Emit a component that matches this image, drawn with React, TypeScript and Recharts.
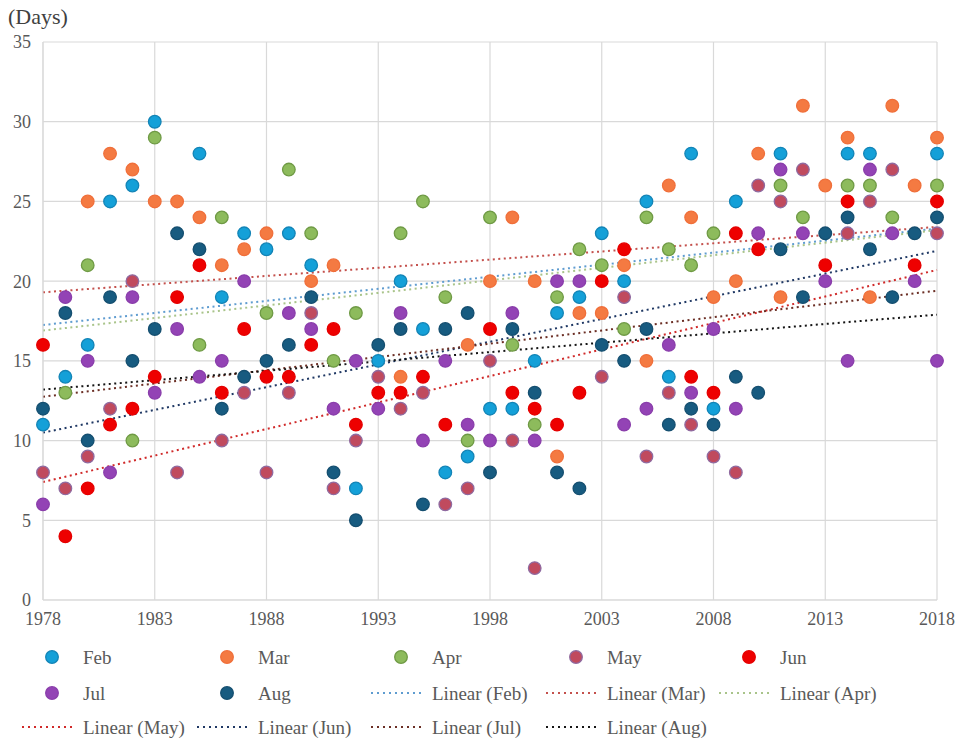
import { ScatterChart, Scatter, XAxis, YAxis, CartesianGrid, ReferenceLine } from "recharts";

const FONT = "Liberation Serif, DejaVu Serif, Times New Roman, Times, serif";

const years = [
  1978, 1979, 1980, 1981, 1982, 1983, 1984, 1985, 1986, 1987, 1988, 1989, 1990, 1991,
  1992, 1993, 1994, 1995, 1996, 1997, 1998, 1999, 2000, 2001, 2002, 2003, 2004, 2005,
  2006, 2007, 2008, 2009, 2010, 2011, 2012, 2013, 2014, 2015, 2016, 2017, 2018,
];

// days per month, one value per year (null = no dot drawn)
const feb = [11, 14, 16, 25, 26, 30, null, 28, 19, 23, 22, 23, 21, null, 7, 15, 20, 17, 8, 9, 12, 12, 15, 18, 19, 23, 20, 25, 14, 28, 12, 25, null, 28, null, null, 28, 28, null, null, 28];
const mar = [null, null, 25, 28, 27, 25, 25, 24, 21, 22, 23, null, 20, 21, null, null, 14, null, null, 16, 20, 24, 20, 9, 18, 18, 21, 15, 26, 24, 19, 20, 28, 19, 31, 26, 29, 19, 31, 26, 29];
const apr = [null, 13, 21, null, 10, 29, null, 16, 24, null, 18, 27, 23, 15, 18, null, 23, 25, 19, 10, 24, 16, 11, 19, 22, 21, 17, 24, 22, 21, 23, null, null, 26, 24, null, 26, 26, 24, null, 26];
const may = [8, 7, 9, 12, 20, null, 8, null, 10, 13, 8, 13, 18, 7, 10, 14, 12, 13, 6, 7, 15, 10, 2, null, null, 14, 19, 9, 13, 11, 9, 8, 26, 25, 27, null, 23, 25, 27, null, 23];
const jun = [16, 4, 7, 11, 12, 14, 19, 21, 13, 17, 14, 14, 16, 17, 11, 13, 13, 14, 11, null, 17, 13, 12, 11, 13, 20, 22, null, null, 14, 13, 23, 22, null, null, 21, 25, null, null, 21, 25];
const jul = [6, 19, 15, 8, 19, 13, 17, 14, 15, 20, null, 18, 17, 12, 15, 12, 18, 10, 15, 11, 10, 18, 10, 20, 20, null, 11, 12, 16, 13, 17, 12, 23, 27, 23, 20, 15, 27, 23, 20, 15];
const aug = [12, 18, 10, 19, 15, 17, 23, 22, 12, 14, 15, 16, 19, 8, 5, 16, 17, 6, 17, 18, 8, 17, 13, 8, 7, 16, 15, 17, 11, 12, 11, 14, 13, 22, 19, 23, 24, 22, 19, 23, 24];

const months = ["Feb", "Mar", "Apr", "May", "Jun", "Jul", "Aug"];
const monthValues = [feb, mar, apr, may, jun, jul, aug];
const dotFill = ["#14a0d8", "#f47a42", "#8dbb5c", "#c04a5e", "#ee0000", "#9343b5", "#175b80"];
const dotStroke = ["#1384b6", "#f06f3a", "#6f9a45", "#8f6aa0", "#e50000", "#8a3eab", "#154f70"];

// trend lines: value at 1978 and at 2018
const trendStart = [17.25, 19.3, 16.9, 7.4, 10.5, 12.75, 13.2];
const trendEnd = [23.3, 23.4, 23.2, 20.7, 21.9, 19.4, 17.9];
const trendColor = ["#5f9cd0", "#c4504c", "#a9c48a", "#d02a2a", "#1f3864", "#6b2e24", "#151515"];

const xTicks = [1978, 1983, 1988, 1993, 1998, 2003, 2008, 2013, 2018];
const yTicks = [0, 5, 10, 15, 20, 25, 30, 35];

const tickStyle = { fontSize: 18, fill: "#595959", fontFamily: FONT };

const dot = (fill: string, stroke: string) => (p: any) =>
  <circle cx={p.cx} cy={p.cy} r={6.3} fill={fill} stroke={stroke} strokeWidth={1.3} />;

function ChartLegend() {
  const colX = [83, 258, 432, 607, 780];
  const rowY = [27, 63, 97];
  const items = [
    ...months.map((m, i) => ({ label: m, kind: "dot", i })),
    ...months.map((m, i) => ({ label: `Linear (${m})`, kind: "line", i })),
  ];
  return (
    <svg width={957} height={108} style={{ position: "absolute", left: 0, top: 630 }}>
      {items.map((it, k) => {
        const x = colX[k % 5];
        const y = rowY[Math.floor(k / 5)];
        return (
          <g key={it.label}>
            {it.kind === "dot" ? (
              <circle cx={x - 31} cy={y} r={6.3} fill={dotFill[it.i]} stroke={dotStroke[it.i]} strokeWidth={1.3} />
            ) : (
              <line x1={x - 61} x2={x - 8} y1={y} y2={y} stroke={trendColor[it.i]} strokeWidth={2} strokeDasharray="2 4" />
            )}
            <text x={x} y={y} dominantBaseline="central" fontSize={19} fill="#595959" style={{ fontFamily: FONT }}>
              {it.label}
            </text>
          </g>
        );
      })}
    </svg>
  );
}

export default function App() {
  return (
    <div style={{ position: "relative", width: 957, height: 738, background: "#fff", fontFamily: FONT }}>
      <style>{`body{margin:0} .recharts-cartesian-axis-tick-value{font-family:${FONT}}`}</style>
      <div style={{ position: "absolute", left: 8, top: 4, fontSize: 22, color: "#404040" }}>(Days)</div>
      <ScatterChart width={957} height={738} margin={{ top: 42, right: 20, left: 0, bottom: 108 }}>
        <CartesianGrid stroke="#d9d9d9" strokeWidth={1.2} />
        <XAxis
          type="number"
          dataKey="x"
          domain={[1978, 2018]}
          ticks={xTicks}
          interval={0}
          tickLine={false}
          tickSize={0}
          tickMargin={12}
          axisLine={{ stroke: "#d9d9d9" }}
          tick={tickStyle}
          height={30}
        />
        <YAxis
          type="number"
          dataKey="y"
          domain={[0, 35]}
          ticks={yTicks}
          interval={0}
          tickLine={false}
          tickSize={0}
          tickMargin={12}
          axisLine={{ stroke: "#d9d9d9" }}
          tick={tickStyle}
          width={43}
        />
        {months.map((m, i) => (
          <Scatter
            key={m}
            name={m}
            data={years
              .map((yr, j) => ({ x: yr, y: monthValues[i][j] }))
              .filter((d) => d.y !== null)}
            shape={dot(dotFill[i], dotStroke[i])}
            isAnimationActive={false}
          />
        ))}
        {months.map((m, i) => (
          <ReferenceLine
            key={`t-${m}`}
            segment={[
              { x: years[0], y: trendStart[i] },
              { x: years[years.length - 1], y: trendEnd[i] },
            ]}
            stroke={trendColor[i]}
            strokeWidth={2}
            strokeDasharray="2 3.5"
          />
        ))}
      </ScatterChart>
      <ChartLegend />
    </div>
  );
}
